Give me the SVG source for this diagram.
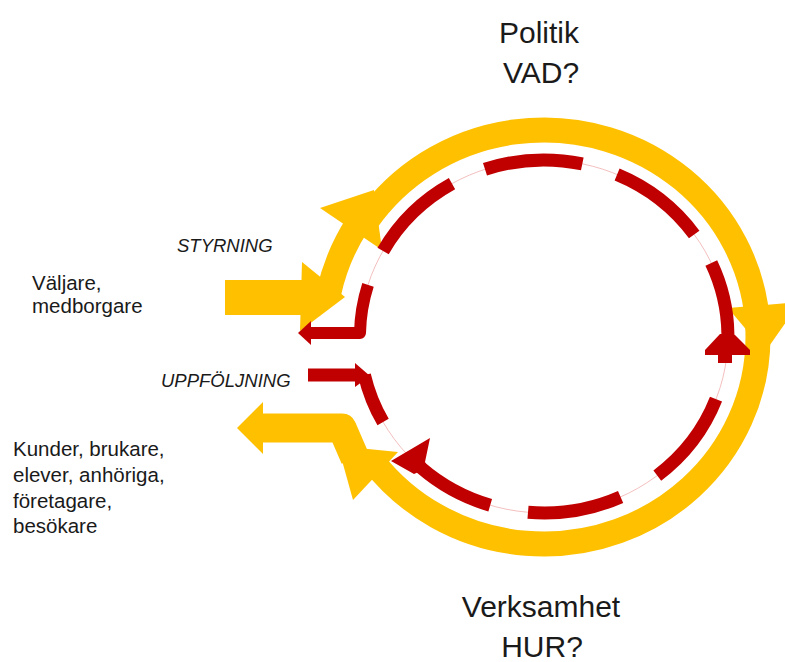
<svg xmlns="http://www.w3.org/2000/svg" width="785" height="662" viewBox="0 0 785 662">
  <style>
    .lbl { font-family: "Liberation Sans", Arial, sans-serif; fill: #1a1a1a; }
    .big { font-size: 30px; text-anchor: middle; }
    .side { font-size: 20.5px; }
    .flow { font-size: 18.5px; font-style: italic; }
    .ybody { fill: none; stroke: #FFC000; stroke-width: 25; }
    .yfill { fill: #FFC000; }
    .rline { fill: none; stroke: #C00000; stroke-width: 13; }
    .rfill { fill: #C00000; }
    .guide { fill: none; stroke: #F2B8B8; stroke-width: 0.9; }
  </style>
  <rect width="785" height="662" fill="#ffffff"/>

  <g id="connectors">
    <!-- yellow loop: input arrow, big clockwise arc, output arrow -->
    <g id="yellow-loop">
      <rect class="yfill" x="225" y="280" width="78" height="35"/>
      <path class="ybody" d="M 328.8,292.7 A 220 213 0 0 1 357.4,224.1"/>
      <polygon class="yfill" points="302,262 345,297 300,331"/>
      <path class="ybody" d="M 366.6,221.2 A 214 207 0 1 1 373.1,461.6"/>
      <polygon class="yfill" points="320,208 374,190 382,250"/>
      <polygon class="yfill" points="728,308 765,352 800,302"/>
      <path class="ybody" style="stroke-width:29" stroke-linejoin="round" d="M 262,428 L 342,428 L 355,458"/>
      <polygon class="yfill" points="398,452 353,500 338,446"/>
      <polygon class="yfill" points="237,428 263,402 263,454"/>
    </g>

    <!-- red dashed loop -->
    <g id="red-loop">
      <path class="guide" d="M 368,284.9 A 184 176.5 0 1 1 383.1,422.1"/>
      <path class="rline" d="M 383.1,250.9 A 184 176.5 0 0 1 452,183.6"/>
      <path class="rline" d="M 485,169.3 A 184 176.5 0 0 1 582.3,163.9"/>
      <path class="rline" d="M 617.1,174.5 A 184 176.5 0 0 1 694.2,234.5"/>
      <path class="rline" d="M 711.3,263 A 184 176.5 0 0 1 727.9,334"/>
      <polygon class="rfill" points="720,334 705,350 705,355 718,355 718,363 732,363 732,355 750,355 750,350 734,334"/>
      <path class="rline" d="M 716,399.2 A 184 176.5 0 0 1 657.3,475.6"/>
      <path class="rline" d="M 620.6,497 A 184 176.5 0 0 1 528,512.3"/>
      <path class="rline" d="M 490.2,505.3 A 184 176.5 0 0 1 420.9,467.7"/>
      <polygon class="rfill" points="391,461 430,438 425,462 428,468 414,474"/>

      <!-- STYRNING out -->
      <path class="rline" style="stroke-width:12" stroke-linejoin="round" d="M 368,284.9 A 184 176.5 0 0 0 360,333 L 310,333"/>
      <polygon class="rfill" points="298,333 311,321 311,345"/>

      <!-- UPPFÖLJNING in -->
      <path class="rline" d="M 308,375 L 358,375"/>
      <polygon class="rfill" points="355,363 370,376 355,387"/>
      <path class="rline" d="M 364.4,375 A 184 176.5 0 0 0 383.1,422.1"/>
    </g>
  </g>

  <g id="politik">
    <text class="lbl big" x="539" y="43">Politik</text>
    <text class="lbl big" x="541" y="83">VAD?</text>
  </g>
  <g id="verksamhet">
    <text class="lbl big" x="541" y="617">Verksamhet</text>
    <text class="lbl big" x="542" y="657">HUR?</text>
  </g>
  <g id="styrning">
    <text class="lbl flow" x="177" y="252">STYRNING</text>
  </g>
  <g id="uppfoljning">
    <text class="lbl flow" x="161" y="387">UPPFÖLJNING</text>
  </g>
  <g id="valjare">
    <text class="lbl side" x="32" y="290">Väljare,</text>
    <text class="lbl side" x="32" y="313">medborgare</text>
  </g>
  <g id="kunder">
    <text class="lbl side" x="13" y="456">Kunder, brukare,</text>
    <text class="lbl side" x="13" y="482">elever, anhöriga,</text>
    <text class="lbl side" x="13" y="508">företagare,</text>
    <text class="lbl side" x="13" y="533">besökare</text>
  </g>
</svg>
